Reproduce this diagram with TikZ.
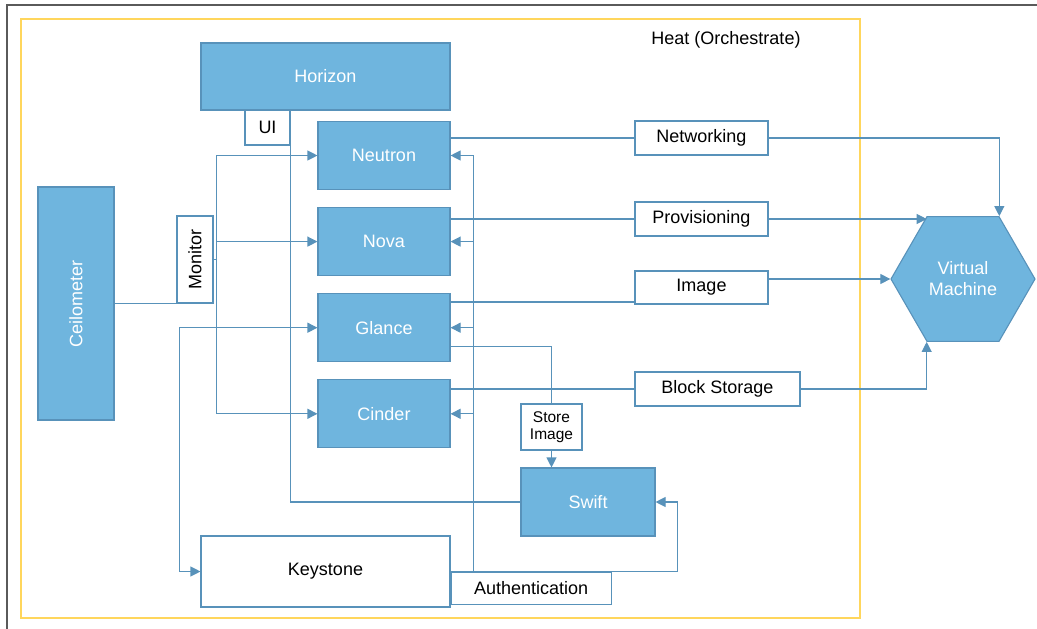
\documentclass[tikz,border=0pt]{standalone}
\usepackage{fontspec}
\setmainfont{Liberation Sans}
\usetikzlibrary{positioning}
\usetikzlibrary{shapes.geometric}
\usetikzlibrary{arrows.meta}
\definecolor{boxblue}{RGB}{111,181,222}
\definecolor{edgeblue}{RGB}{88,146,186}
\definecolor{heatyellow}{RGB}{255,214,92}
\definecolor{framegray}{RGB}{90,90,90}

\begin{document}
\begin{tikzpicture}[x=1pt, y=-1pt, font=\fontsize{18}{21}\selectfont,
  svc/.style={draw=edgeblue, fill=boxblue, text=white, line width=1.1pt, minimum width=132pt, minimum height=68pt, inner sep=0pt},
  tag/.style={draw=edgeblue, fill=white, line width=1.1pt, minimum height=34pt, inner sep=0pt},
  link/.style={draw=edgeblue, line width=1.1pt},
  >={Triangle[length=10pt,width=10pt]}]
\useasboundingbox (0,0) rectangle (1037,629);
\draw[framegray, line width=1.5pt] (1037,5) -- (7,5) -- (7,629);

\node[draw=heatyellow, line width=1.3pt, minimum width=839pt, minimum height=599pt] (heat) at (440.5,318.5) {};
\node                                (heatlbl) at (726,40)   {Heat (Orchestrate)};

\node[svc, minimum width=249pt, minimum height=67pt] (horizon) at (325.5,76.5) {Horizon};
\node[tag, minimum width=45pt, minimum height=35pt]  (ui)      at (267.5,127.5) {UI};

\node[svc]                          (neutron) at (384,155.5) {Neutron};
\node[svc, below = 17pt of neutron] (nova)    {Nova};
\node[svc, below = 17pt of nova]    (glance)  {Glance};
\node[svc, below = 17pt of glance]  (cinder)  {Cinder};

\node[svc, minimum width=76pt, minimum height=233pt] (ceilo)   at (76,303.5)  {\rotatebox{90}{Ceilometer}};
\node[tag, minimum width=36pt, minimum height=87pt]  (monitor) at (195,259.5) {\rotatebox{90}{Monitor}};

\node[svc, minimum width=134pt]                      (swift)    at (588,502)    {Swift};
\node[tag, align=center, font=\fontsize{15.5}{16.5}\selectfont,
      minimum width=61pt, minimum height=46pt]       (store)    at (551.5,427)  {Store\\Image};
\node[tag, minimum width=249pt, minimum height=71pt] (keystone) at (325.5,571.5) {Keystone};
\node[tag, minimum width=160pt, minimum height=32pt, anchor=north west] (auth) at (keystone.east) {Authentication};

\node[tag, minimum width=133pt]            (net)   at (701.5,138)   {Networking};
\node[tag, minimum width=133pt]            (prov)  at (701.5,219)   {Provisioning};
\node[tag, minimum width=133pt, minimum height=33pt] (image) at (701.5,287.5) {Image};
\node[tag, minimum width=165pt]            (block) at (717.5,389)   {Block Storage};

\node[regular polygon, regular polygon sides=6, minimum size=144pt, inner sep=0pt,
      draw=edgeblue, fill=boxblue, text=white, align=center, line width=1.1pt] (vm) at (963,279) {Virtual\\Machine};

% Monitoring and UI
\draw[link] (ceilo.east) -- (ceilo.east -| monitor.west);
\draw[link, ->] (monitor.east) -- ++(3,0) |- (neutron.west);
\draw[link, ->] (monitor.east) -- ++(3,0) |- (nova.west);
\draw[link, ->] (monitor.east) -- ++(3,0) |- (cinder.west);
\draw[link] (horizon.south -| ui.east) |- (swift.west);

% Keystone
\draw[link, <->] (glance.west) -- ++(-138,0) |- (keystone.west);
\draw[link, ->] (auth.north west) -| ([xshift=22pt]swift.east) -- (swift.east);
\foreach \s in {neutron, nova, glance, cinder}
  \draw[link, ->] ([xshift=23pt]auth.north west) |- (\s.east);

% Image store
\draw[link] ([yshift=16pt]glance.south east) -| (store.north);
\draw[link, ->] (store.south) -- (store.south |- swift.north);

% Virtual machine
\draw[link] (net.west -| neutron.east) -- (net.west);
\draw[link, ->] (net.east) -| (vm.corner 1);
\draw[link] (prov.west -| nova.east) -- (prov.west);
\draw[link, ->] (prov.east) -- (prov.east -| vm.corner 2);
\draw[link] ([yshift=-14.5pt]image.west -| glance.east) -- ([yshift=-14.5pt]image.west);
\draw[link, ->] ([yshift=8.5pt]image.east) -- (vm.corner 3);
\draw[link] (block.west -| cinder.east) -- (block.west);
\draw[link, ->] (block.east) -| (vm.corner 4);
\end{tikzpicture}
\end{document}
